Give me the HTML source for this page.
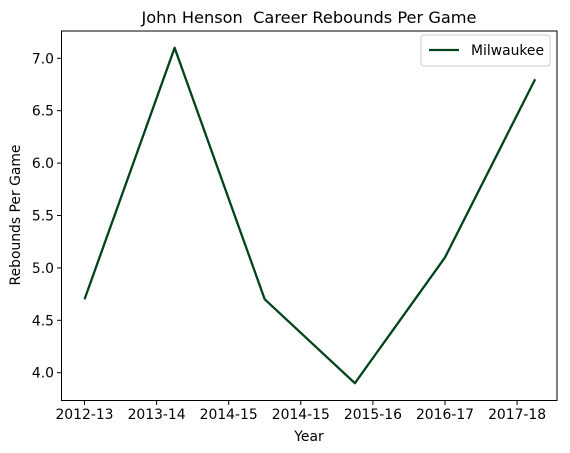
<!DOCTYPE html>
<html><head><meta charset="utf-8"><style>
body{margin:0;background:#fff;}
svg{display:block;font-family:"DejaVu Sans","Liberation Sans",sans-serif;}
</style></head><body>
<svg id="chart" width="570" height="453">
<text x="309" y="23" text-anchor="middle" font-size="16.2" style="white-space:pre">John Henson  Career Rebounds Per Game</text>
<rect x="61.5" y="31" width="495.5" height="369.5" fill="none" stroke="#000" stroke-width="1"/>
<g id="xt"></g><g id="yt"></g>
<text x="309" y="441" text-anchor="middle" font-size="13.9">Year</text>
<text transform="translate(20,215) rotate(-90)" text-anchor="middle" font-size="13.9">Rebounds Per Game</text>
<path id="line" fill="none" stroke="#00441b" stroke-width="2.3" stroke-linejoin="round"/>
<g>
<rect x="421" y="35" width="129" height="31" rx="3" fill="#fff" stroke="#ccc"/>
<line x1="429" y1="50" x2="459" y2="50" stroke="#00441b" stroke-width="2.3"/>
<text x="471" y="55" font-size="13.9">Milwaukee</text>
</g>
</svg>
<script>
const tickLabels=["2012-13","2013-14","2014-15","2014-15","2015-16","2016-17","2017-18"];
const xValues=[0,1.25,2.5,3.75,5,6.25];
const rebounds=[4.7,7.1,4.7,3.9,5.1,6.8];
const yTicks=[4.0,4.5,5.0,5.5,6.0,6.5,7.0];
const NS="http://www.w3.org/2000/svg";
const X=v=>84.5+v*72.1, Y=v=>58.3+(7-v)*104.8;
const xt=document.getElementById('xt'), yt=document.getElementById('yt');
tickLabels.forEach((l,i)=>{
 const t=document.createElementNS(NS,'line');
 t.setAttribute('x1',X(i));t.setAttribute('x2',X(i));t.setAttribute('y1',400.5);t.setAttribute('y2',405);t.setAttribute('stroke','#000');
 xt.appendChild(t);
 const s=document.createElementNS(NS,'text');
 s.setAttribute('x',X(i));s.setAttribute('y',419);s.setAttribute('text-anchor','middle');s.setAttribute('font-size','13.9');
 
 
 s.textContent=l;xt.appendChild(s);
});
yTicks.forEach(v=>{
 const t=document.createElementNS(NS,'line');
 t.setAttribute('x1',57);t.setAttribute('x2',61.5);t.setAttribute('y1',Y(v));t.setAttribute('y2',Y(v));t.setAttribute('stroke','#000');
 yt.appendChild(t);
 const s=document.createElementNS(NS,'text');
 s.setAttribute('x',54);s.setAttribute('y',Y(v)+5);s.setAttribute('text-anchor','end');s.setAttribute('font-size','13.9');
 
 
 s.textContent=v.toFixed(1);yt.appendChild(s);
});
document.getElementById('line').setAttribute('d',rebounds.map((v,i)=>(i?'L':'M')+X(xValues[i])+','+Y(v)).join(' '));
</script>
</body></html>
